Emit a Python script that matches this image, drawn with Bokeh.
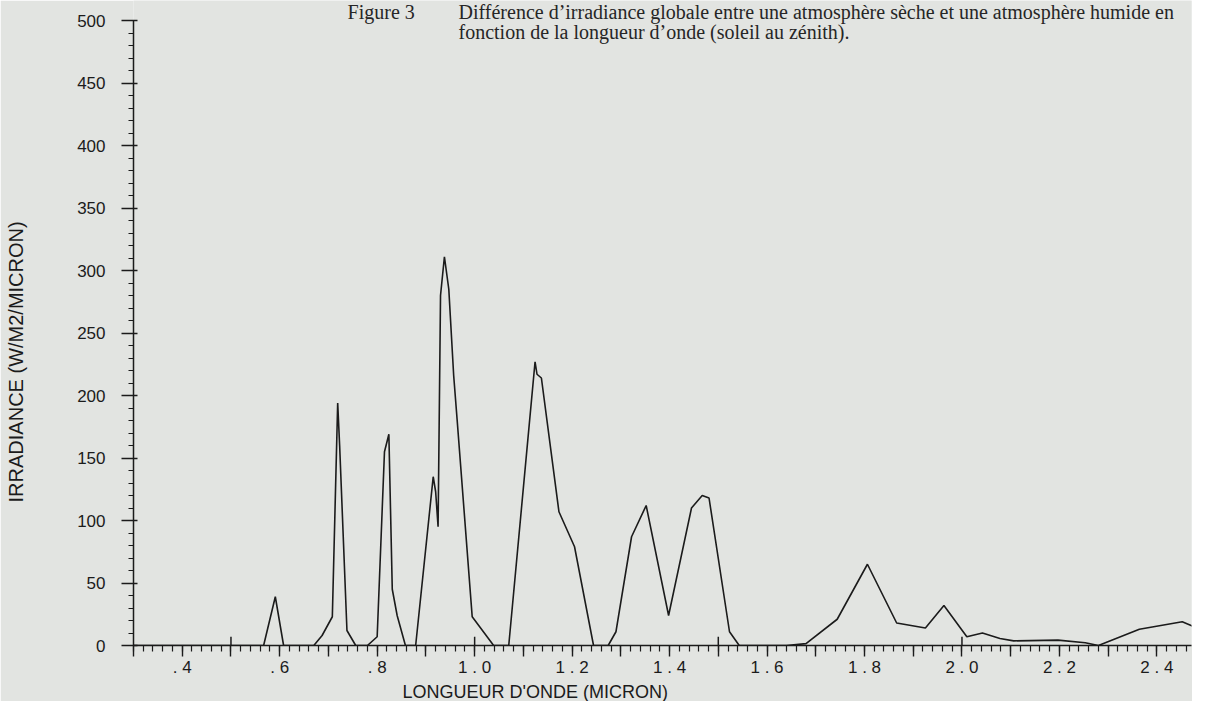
from bokeh.plotting import figure
from bokeh.models import FixedTicker, CustomJSTickFormatter, Label, Title
from bokeh.embed import file_html
from bokeh.resources import INLINE

# ---- data ----
wavelength = [0.300, 0.567, 0.591, 0.608, 0.670, 0.687, 0.708, 0.719, 0.723, 0.738,
              0.756, 0.780, 0.800, 0.815, 0.824, 0.831, 0.841, 0.858, 0.879, 0.915,
              0.920, 0.925, 0.930, 0.938, 0.947, 0.957, 0.964, 0.995, 1.039, 1.070,
              1.124, 1.128, 1.137, 1.173, 1.205, 1.244, 1.274, 1.290, 1.322, 1.352,
              1.398, 1.445, 1.467, 1.481, 1.523, 1.543, 1.640, 1.680, 1.744, 1.806,
              1.866, 1.925, 1.963, 2.010, 2.042, 2.078, 2.106, 2.197, 2.253, 2.280,
              2.364, 2.452, 2.500]
irradiance = [0, 0, 39, 0, 0, 8, 23, 194, 160, 12,
              0, 0, 7, 155, 169, 45, 24, 0, 0, 135,
              123, 95, 280, 311, 285, 216, 181, 23, 0, 0,
              227, 217, 214, 107, 79, 0, 0, 11, 87, 112,
              24, 110, 120, 118, 11, 0, 0, 1.5, 21, 65,
              18, 14, 32, 7, 10, 5.6, 3.7, 4.3, 2.2, 0,
              13, 19, 11]

x_major_ticks = [round(0.3 + 0.1 * i, 1) for i in range(23)]
x_minor_ticks = [round(0.3 + 0.02 * i, 2) for i in range(111)]
x_label_values = [0.4, 0.6, 0.8, 1.0, 1.2, 1.4, 1.6, 1.8, 2.0, 2.2, 2.4]
x_label_texts = [". 4", ". 6", ". 8", "1 . 0", "1 . 2", "1 . 4", "1 . 6",
                 "1 . 8", "2 . 0", "2 . 2", "2 . 4"]
x_cross_ticks = [0.5, 1.0, 1.5, 2.0, 2.5]
y_major_ticks = list(range(0, 501, 50))
y_minor_ticks = list(range(0, 501, 10))

caption_head = "Figure 3"
caption_line1 = "Différence d’irradiance globale entre une atmosphère sèche et une atmosphère humide en"
caption_line2 = "fonction de la longueur d’onde (soleil au zénith)."
x_title = "LONGUEUR D'ONDE (MICRON)"
y_title = "IRRADIANCE (W/M2/MICRON)"

BG = "#e2e4e1"
INK = "#1b1b1b"
SANS = "Liberation Sans"
SERIF = "Liberation Serif"

# the frame reaches the top edge so that the caption lines sit inside it;
# the y axis itself is bounded to 0..500
p = figure(width=1192, height=701, x_range=(0.3, 2.471), y_range=(0, 516),
           output_backend="svg", toolbar_location=None,
           min_border_left=133, min_border_right=1, min_border_top=0,
           min_border_bottom=54,
           background_fill_color=BG, border_fill_color=BG,
           outline_line_color=None)
p.grid.visible = False

p.line(wavelength, irradiance, line_color=INK, line_width=1.6)
# crossing ticks on the x axis at every half micron
p.segment(x0=x_cross_ticks, y0=[0] * len(x_cross_ticks),
          x1=x_cross_ticks, y1=[7] * len(x_cross_ticks),
          line_color=INK, line_width=1.5)

xa = p.xaxis[0]
xa.ticker = FixedTicker(ticks=x_major_ticks, minor_ticks=x_minor_ticks)
xa.formatter = CustomJSTickFormatter(
    args=dict(vals=x_label_values, txt=x_label_texts),
    code="""
for (let i = 0; i < vals.length; i++) {
  if (Math.abs(tick - vals[i]) < 1e-6) { return txt[i]; }
}
return "";
""")
xa.major_tick_out = 11
xa.major_tick_in = 0
xa.minor_tick_out = 6
xa.minor_tick_in = 0
xa.major_label_standoff = 1

ya = p.yaxis[0]
ya.ticker = FixedTicker(ticks=y_major_ticks, minor_ticks=y_minor_ticks)
ya.bounds = (0, 500)
ya.major_tick_out = 12
ya.major_tick_in = 4
ya.minor_tick_out = 5
ya.minor_tick_in = 0
ya.major_label_standoff = 16
# trailing no-break spaces move the centred label down, as in the reference
ya.axis_label = y_title + "\u00a0" * 14
ya.axis_label_standoff = 47
ya.axis_label_text_font = SANS
ya.axis_label_text_font_size = "20px"
ya.axis_label_text_font_style = "normal"
ya.axis_label_text_color = INK

for ax in (xa, ya):
    ax.axis_line_color = INK
    ax.axis_line_width = 1.5
    ax.major_tick_line_color = INK
    ax.major_tick_line_width = 1.4
    ax.minor_tick_line_color = INK
    ax.minor_tick_line_width = 1.2
    ax.major_label_text_font = SANS
    ax.major_label_text_font_size = "17px"
    ax.major_label_text_color = INK

p.add_layout(Title(text=x_title, align="left", offset=269, standoff=0,
                   text_font=SANS, text_font_size="18px",
                   text_font_style="normal", text_color=INK), "below")

common = dict(x_units="data", y_units="data", text_font=SERIF,
              text_font_size="20px", text_color="#262626",
              text_baseline="alphabetic")
p.add_layout(Label(x=0.7392, y=506.8, text=caption_head, **common))
p.add_layout(Label(x=0.9669, y=506.8, text=caption_line1, **common))
p.add_layout(Label(x=0.9669, y=490.9, text=caption_line2, **common))

open("out.html", "w").write(file_html(p, INLINE))
